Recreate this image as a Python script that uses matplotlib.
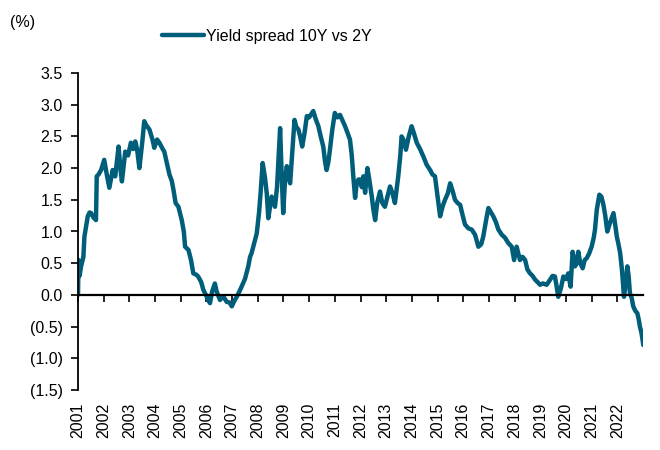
import matplotlib
matplotlib.use("Agg")
import matplotlib.pyplot as plt

plt.rcParams['font.family'] = ['Liberation Sans', 'DejaVu Sans']
plt.rcParams['font.size'] = 11.5

# Decimal-year dates and 10Y-2Y spread (%)
dates = [
    2001.00, 2001.02, 2001.06, 2001.12, 2001.21, 2001.25, 2001.38, 2001.45, 2001.51, 2001.60,
    2001.70, 2001.73, 2001.80, 2001.90, 2002.02, 2002.12, 2002.22, 2002.35, 2002.45, 2002.58,
    2002.65, 2002.71, 2002.84, 2002.95, 2003.06, 2003.15, 2003.23, 2003.30, 2003.39, 2003.50,
    2003.58, 2003.65, 2003.78, 2003.90, 2003.97, 2004.08, 2004.17, 2004.30, 2004.36, 2004.45,
    2004.56, 2004.65, 2004.72, 2004.80, 2004.91, 2005.04, 2005.12, 2005.17, 2005.30, 2005.40,
    2005.49, 2005.60, 2005.68, 2005.80, 2005.88, 2005.98, 2006.07, 2006.14, 2006.22, 2006.33,
    2006.40, 2006.53, 2006.65, 2006.79, 2006.90, 2006.99, 2007.08, 2007.18, 2007.28, 2007.37,
    2007.50, 2007.63, 2007.70, 2007.76, 2007.85, 2007.96, 2008.05, 2008.11, 2008.19, 2008.28,
    2008.35, 2008.41, 2008.48, 2008.54, 2008.62, 2008.67, 2008.75, 2008.80, 2008.87, 2008.93,
    2008.99, 2009.06, 2009.13, 2009.20, 2009.26, 2009.35, 2009.43, 2009.50, 2009.58, 2009.65,
    2009.73, 2009.82, 2009.91, 2010.00, 2010.08, 2010.16, 2010.25, 2010.36, 2010.45, 2010.55,
    2010.62, 2010.68, 2010.75, 2010.81, 2010.90, 2011.00, 2011.10, 2011.20, 2011.30, 2011.40,
    2011.50, 2011.59, 2011.66, 2011.72, 2011.79, 2011.85, 2011.92, 2011.98, 2012.05, 2012.11,
    2012.18, 2012.27, 2012.35, 2012.44, 2012.50, 2012.57, 2012.65, 2012.76, 2012.85, 2012.95,
    2013.05, 2013.15, 2013.25, 2013.34, 2013.47, 2013.55, 2013.60, 2013.67, 2013.77, 2013.88,
    2013.99, 2014.08, 2014.19, 2014.32, 2014.45, 2014.58, 2014.71, 2014.80, 2014.90, 2015.00,
    2015.10, 2015.20, 2015.29, 2015.40, 2015.49, 2015.58, 2015.68, 2015.78, 2015.88, 2015.98,
    2016.07, 2016.20, 2016.33, 2016.46, 2016.59, 2016.70, 2016.78, 2016.90, 2016.98, 2017.08,
    2017.17, 2017.27, 2017.37, 2017.50, 2017.63, 2017.75, 2017.89, 2017.98, 2018.08, 2018.21,
    2018.31, 2018.41, 2018.50, 2018.60, 2018.70, 2018.80, 2018.90, 2018.99, 2019.10, 2019.25,
    2019.38, 2019.48, 2019.57, 2019.63, 2019.70, 2019.80, 2019.90, 2020.00, 2020.09, 2020.18,
    2020.26, 2020.35, 2020.42, 2020.48, 2020.56, 2020.65, 2020.73, 2020.81, 2020.90, 2021.00,
    2021.08, 2021.13, 2021.20, 2021.30, 2021.38, 2021.46, 2021.53, 2021.61, 2021.71, 2021.85,
    2021.92, 2021.98, 2022.04, 2022.11, 2022.18, 2022.26, 2022.33, 2022.39, 2022.44, 2022.49,
    2022.56, 2022.62, 2022.70, 2022.78, 2022.84, 2022.88, 2022.94, 2022.98, 2023.01,
]
spread = [
    0.00, 0.55, 0.30, 0.45, 0.60, 0.92, 1.24, 1.30, 1.29, 1.22,
    1.18, 1.87, 1.90, 1.97, 2.13, 1.90, 1.69, 1.97, 1.87, 2.34,
    2.00, 1.79, 2.26, 2.20, 2.40, 2.30, 2.42, 2.30, 2.00, 2.40,
    2.74, 2.68, 2.61, 2.45, 2.32, 2.45, 2.40, 2.30, 2.26, 2.10,
    1.90, 1.80, 1.65, 1.45, 1.39, 1.18, 1.00, 0.76, 0.71, 0.55,
    0.34, 0.32, 0.29, 0.20, 0.08, 0.00, -0.08, -0.13, 0.05, 0.18,
    0.05, -0.08, -0.02, -0.11, -0.12, -0.18, -0.10, -0.03, 0.05, 0.13,
    0.25, 0.45, 0.60, 0.66, 0.80, 0.97, 1.30, 1.61, 2.08, 1.85,
    1.60, 1.21, 1.40, 1.55, 1.45, 1.39, 1.70, 2.10, 2.63, 1.90,
    1.29, 1.80, 2.03, 1.85, 1.76, 2.30, 2.76, 2.65, 2.61, 2.50,
    2.34, 2.55, 2.82, 2.80, 2.85, 2.90, 2.78, 2.66, 2.50, 2.34,
    2.10, 1.97, 2.10, 2.29, 2.60, 2.87, 2.80, 2.84, 2.75, 2.66,
    2.55, 2.45, 2.20, 1.87, 1.53, 1.75, 1.82, 1.82, 1.70, 1.87,
    1.61, 2.00, 1.80, 1.55, 1.35, 1.18, 1.45, 1.63, 1.45, 1.39,
    1.55, 1.71, 1.60, 1.45, 1.87, 2.20, 2.50, 2.45, 2.29, 2.50,
    2.66, 2.55, 2.40, 2.30, 2.18, 2.05, 1.97, 1.90, 1.87, 1.55,
    1.24, 1.40, 1.50, 1.60, 1.76, 1.65, 1.50, 1.45, 1.42, 1.25,
    1.11, 1.05, 1.03, 0.95, 0.76, 0.80, 0.92, 1.20, 1.37, 1.30,
    1.24, 1.15, 1.03, 0.95, 0.90, 0.82, 0.76, 0.55, 0.76, 0.55,
    0.60, 0.55, 0.40, 0.34, 0.30, 0.24, 0.20, 0.16, 0.18, 0.16,
    0.24, 0.30, 0.29, 0.15, -0.03, 0.10, 0.29, 0.25, 0.34, 0.13,
    0.68, 0.45, 0.50, 0.68, 0.50, 0.42, 0.55, 0.58, 0.65, 0.76,
    0.90, 1.03, 1.34, 1.58, 1.55, 1.42, 1.25, 1.00, 1.13, 1.29,
    1.10, 0.92, 0.81, 0.66, 0.40, -0.03, 0.20, 0.45, 0.30, 0.03,
    -0.05, -0.18, -0.25, -0.29, -0.40, -0.50, -0.60, -0.70, -0.79,
]

year_ticks = list(range(2001, 2023))
year_labels = [str(y) for y in year_ticks]
y_ticks = [-1.5, -1.0, -0.5, 0.0, 0.5, 1.0, 1.5, 2.0, 2.5, 3.0, 3.5]
y_labels = ['(1.5)', '(1.0)', '(0.5)', '0.0', '0.5', '1.0', '1.5', '2.0', '2.5', '3.0', '3.5']
series_name = 'Yield spread 10Y vs 2Y'
line_color = '#005E7A'

fig = plt.figure(figsize=(6.6, 4.5), dpi=100)
ax = fig.add_axes([78 / 660, 1 - 390 / 450, (643 - 78) / 660, (390 - 73) / 450])

ax.plot(dates, spread, color=line_color, lw=3.2, solid_joinstyle='round',
        solid_capstyle='round', label=series_name)

ax.set_xlim(2001, 2023)
ax.set_ylim(-1.5, 3.5)

for s in ['top', 'right']:
    ax.spines[s].set_visible(False)
ax.spines['left'].set_linewidth(1.3)
ax.spines['bottom'].set_position(('data', 0))
ax.spines['bottom'].set_linewidth(1.6)

ax.set_yticks(y_ticks)
ax.set_yticklabels(y_labels)
ax.tick_params(axis='y', direction='out', length=5, width=1.2, pad=6, labelsize=11.5)

ax.set_xticks(year_ticks)
ax.tick_params(axis='x', direction='out', length=5, width=1.2, labelbottom=False)

sec = ax.secondary_xaxis(0.0)
sec.set_xticks(year_ticks)
sec.set_xticklabels(year_labels, rotation=90)
sec.tick_params(length=0, pad=9, labelsize=11.5)
sec.spines['bottom'].set_visible(False)

fig.legend(loc='center', bbox_to_anchor=(267 / 660, 1 - 36 / 450), frameon=False,
           handlelength=2.6, handletextpad=0.15, fontsize=11.5)
fig.text(10 / 660, 1 - 22 / 450, '(%)', va='center', ha='left', fontsize=11.5)

fig.savefig('out.png', dpi=100)
